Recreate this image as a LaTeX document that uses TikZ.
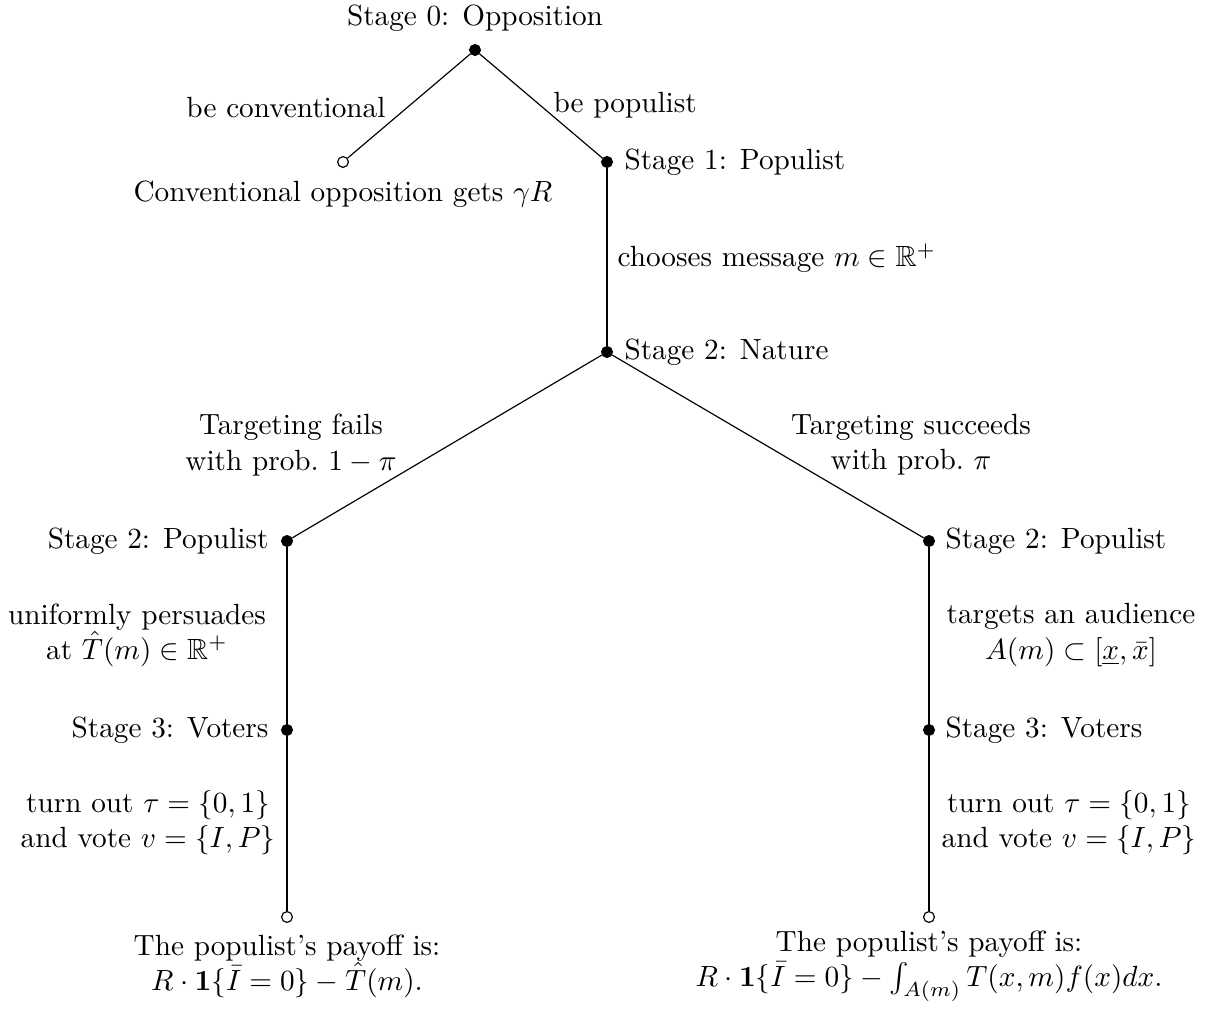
\documentclass[tikz,border=0pt]{standalone}
\usepackage{amsmath,amssymb}
\begin{document}
\begin{tikzpicture}[x=0.01202cm,y=-0.01202cm,
  solid/.style={circle,fill=black,draw=black,inner sep=0pt,minimum size=3.7pt},
  hollow/.style={circle,fill=white,draw=black,line width=0.4pt,inner sep=0pt,minimum size=3.7pt},
  lbl/.style={align=center,inner sep=0pt},
  edge/.style={draw=black,line width=0.4pt}]
\useasboundingbox (0,0) rectangle (1206,1013);
% decision nodes
\node[solid] (n0) at (475,50) {};
\node[hollow] (c) at (343,162) {};
\node[solid] (n1) at (607,162) {};
\node[solid] (n2) at (607,352) {};
\node[solid] (pl) at (287,541) {};
\node[solid] (pr) at (929,541) {};
\node[solid] (vl) at (287,730) {};
\node[solid] (vr) at (929,730) {};
\node[hollow] (ll) at (287,917) {};
\node[hollow] (lr) at (929,917) {};
% edges
\draw[edge] (n0) -- (c);
\draw[edge] (n0) -- (n1);
\draw[edge] (n1) -- (n2);
\draw[edge] (n2) -- (pl);
\draw[edge] (n2) -- (pr);
\draw[edge] (pl) -- (vl);
\draw[edge] (vl) -- (ll);
\draw[edge] (pr) -- (vr);
\draw[edge] (vr) -- (lr);
% labels
\node[lbl] (t0) at (475,18) {Stage 0: Opposition};
\node[lbl,anchor=east] (tbc) at (386,108) {be conventional};
\node[lbl,anchor=west] (tbp) at (553,105) {be populist};
\node[lbl,anchor=west] (t1) at (624,162) {Stage 1: Populist};
\node[lbl] (tc) at (343,194) {Conventional opposition gets $\gamma R$};
\node[lbl,anchor=west] (tm) at (617,258) {chooses message $m\in\mathbb{R}^{+}$};
\node[lbl,anchor=west] (t2) at (624,352) {Stage 2: Nature};
\node[lbl] (tf) at (291,445) {Targeting fails\\ with prob.\ $1-\pi$};
\node[lbl] (ts) at (911,445) {Targeting succeeds\\ with prob.\ $\pi$};
\node[lbl,anchor=east] (tpl) at (269,541) {Stage 2: Populist};
\node[lbl,anchor=west] (tpr) at (945,541) {Stage 2: Populist};
\node[lbl] (tu) at (137,635) {uniformly persuades\\ at $\hat{T}(m)\in\mathbb{R}^{+}$};
\node[lbl] (ta) at (1071,635) {targets an audience\\ $A(m)\subset[\underline{x},\bar{x}]$};
\node[lbl,anchor=east] (tvl) at (269,730) {Stage 3: Voters};
\node[lbl,anchor=west] (tvr) at (945,730) {Stage 3: Voters};
\node[lbl] (tol) at (148,823) {turn out $\tau=\{0,1\}$\\ and vote $v=\{I,P\}$};
\node[lbl] (tor) at (1069,823) {turn out $\tau=\{0,1\}$\\ and vote $v=\{I,P\}$};
\node[lbl] (pyl) at (287,966) {The populist's payoff is:\\ $R\cdot\mathbf{1}\{\bar{I}=0\}-\hat{T}(m)$.};
\node[lbl] (pyr) at (929,966) {The populist's payoff is:\\ $R\cdot\mathbf{1}\{\bar{I}=0\}-\int_{A(m)}T(x,m)f(x)dx$.};
\end{tikzpicture}
\end{document}
